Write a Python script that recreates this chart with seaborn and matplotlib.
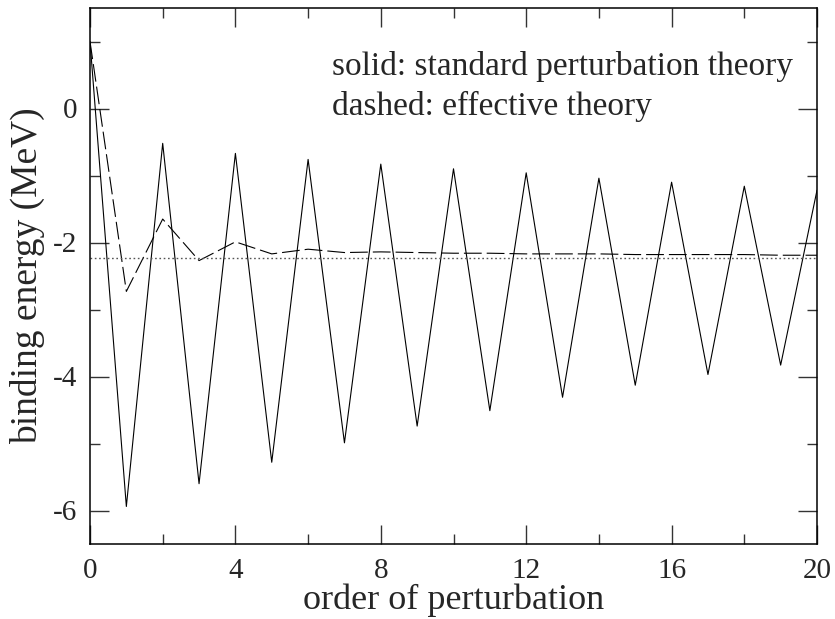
import numpy as np
import pandas as pd
import matplotlib
matplotlib.use("Agg")
import matplotlib.pyplot as plt
import seaborn as sns
from matplotlib.ticker import MultipleLocator

# values
order = list(range(21))
standard = [1.0, -5.94, -0.52, -5.60, -0.67, -5.28, -0.76, -4.99, -0.83, -4.74,
            -0.90, -4.51, -0.96, -4.31, -1.04, -4.13, -1.10, -3.97, -1.16, -3.83,
            -1.22]
effective = [1.0, -2.73, -1.65, -2.27, -1.99, -2.17, -2.10, -2.15, -2.14, -2.15,
             -2.16, -2.16, -2.17, -2.17, -2.17, -2.18, -2.18, -2.18, -2.18, -2.19,
             -2.19]
exact = -2.224

df = pd.DataFrame({"order": order, "standard": standard, "effective": effective})

sns.set_theme(style="ticks")
plt.rcParams["font.family"] = ["Liberation Serif", "DejaVu Serif"]

fig = plt.figure(figsize=(8.35, 6.19), dpi=100)
ax = fig.add_axes([90 / 835, 1 - 544 / 619, 727 / 835, 536 / 619])

sns.lineplot(data=df, x="order", y="standard", color="black", lw=0.8,
             estimator=None, ax=ax)
sns.lineplot(data=df, x="order", y="effective", color="black", lw=0.8,
             linestyle=(0, (16, 4.5)), estimator=None, ax=ax)
ax.axhline(exact, color="#555555", lw=1.0, linestyle=(0, (1.2, 1.9)))

ax.set_xlim(0, 20)
ax.set_ylim(-6.5, 1.5)
ax.xaxis.set_major_locator(MultipleLocator(4))
ax.xaxis.set_minor_locator(MultipleLocator(2))
ax.yaxis.set_major_locator(MultipleLocator(2))
ax.yaxis.set_minor_locator(MultipleLocator(1))
ax.tick_params(which="both", direction="in", top=True, right=True,
               color="#333333", width=1.0, labelsize=21)
ax.tick_params(axis="x", pad=10)
ax.tick_params(axis="y", pad=9)
ax.tick_params(which="major", length=14)
ax.tick_params(which="minor", length=7)
ax.set_yticklabels([f"{int(v)}" for v in ax.get_yticks()])
for sp in ax.spines.values():
    sp.set_linewidth(1.1)
    sp.set_color("black")

ax.set_xlabel("order of perturbation", fontsize=26, labelpad=0)
ax.set_ylabel("binding energy (MeV)", fontsize=27, labelpad=6)

ax.text(0.333, 0.875, "solid: standard perturbation theory", fontsize=24,
        transform=ax.transAxes, va="baseline")
ax.text(0.333, 0.800, "dashed: effective theory", fontsize=24,
        transform=ax.transAxes, va="baseline")

fig.savefig("out.png", dpi=100)
